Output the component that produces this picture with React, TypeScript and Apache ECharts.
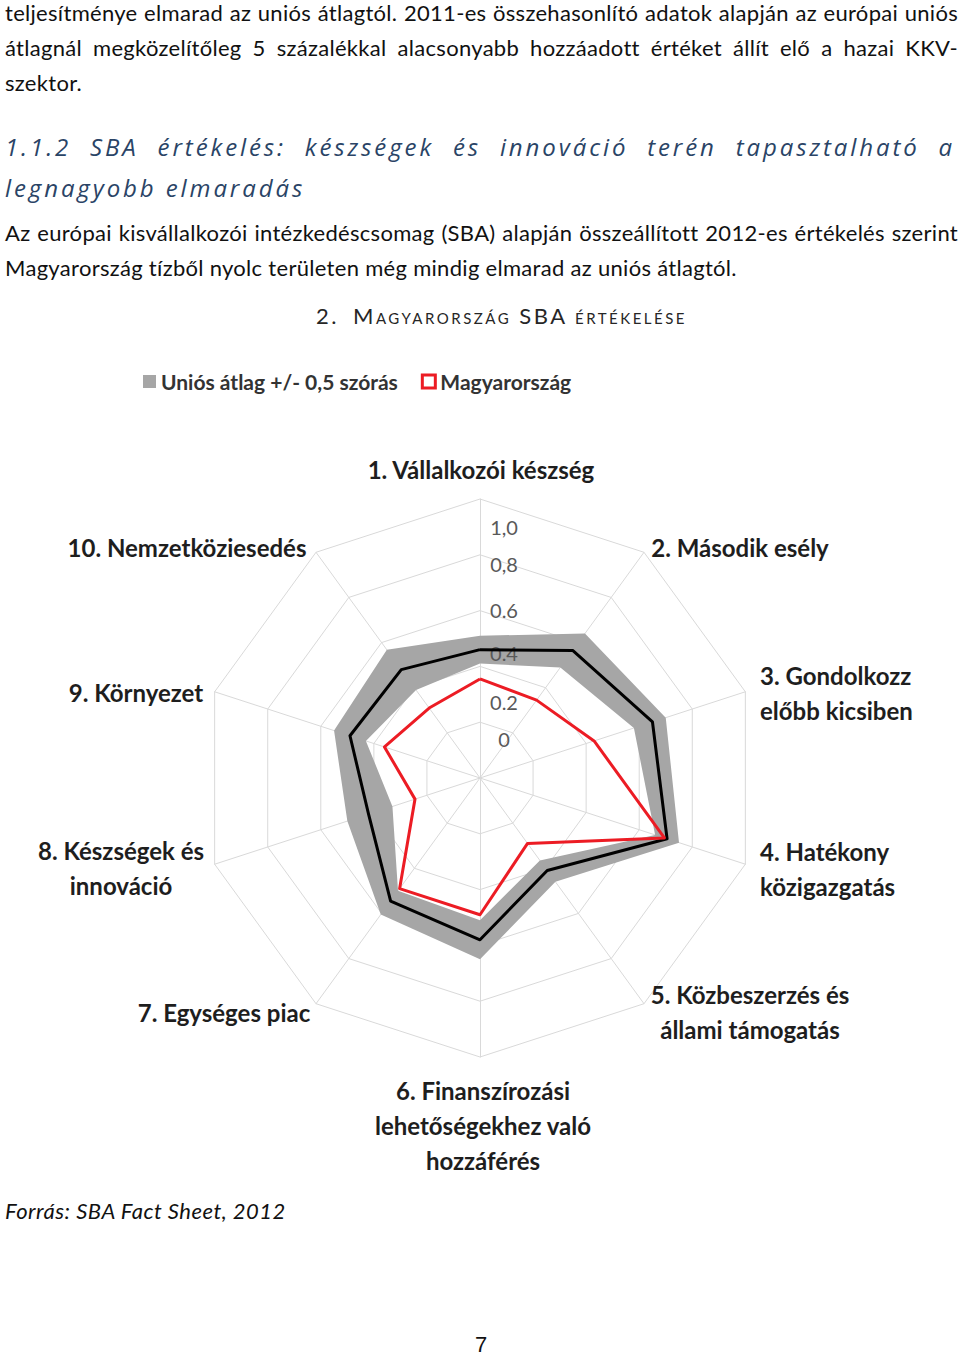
import React, { useEffect, useRef } from "react";
import * as echarts from "echarts";

// ---------- data ----------
const categories = [
  "1. Vállalkozói készség",
  "2. Második esély",
  "3. Gondolkozz\nelőbb kicsiben",
  "4. Hatékony\nközigazgatás",
  "5. Közbeszerzés és\nállami támogatás",
  "6. Finanszírozási\nlehetőségekhez való\nhozzáférés",
  "7. Egységes piac",
  "8. Készségek és\ninnováció",
  "9. Környezet",
  "10. Nemzetköziesedés",
];
const hungary = [0.355, 0.345, 0.43, 0.695, 0.29, 0.49, 0.49, 0.245, 0.36, 0.31];
const euAverage = [0.46, 0.565, 0.65, 0.705, 0.41, 0.58, 0.545, 0.42, 0.49, 0.48];
const euUpper = [0.51, 0.64, 0.7, 0.75, 0.46, 0.65, 0.605, 0.5, 0.55, 0.568];
const euLower = [0.41, 0.49, 0.58, 0.66, 0.365, 0.51, 0.5, 0.33, 0.43, 0.39];
const tickLabels = ["1,0", "0,8", "0.6", "0.4", "0.2", "0"];
const bandName = "Uniós átlag +/- 0,5 szórás";
const hungaryName = "Magyarország";
const averageName = "Uniós átlag";

// ---------- layout (chart-local pixels) ----------
const CX = 480;
const CY = 438;
const R = 279;
const labelLayout = [
  { x: 481, y: 129, align: "center" },
  { x: 740, y: 207, align: "center" },
  { x: 760, y: 352.5, align: "left" },
  { x: 760, y: 528.5, align: "left" },
  { x: 750, y: 671.5, align: "center" },
  { x: 483, y: 785, align: "center" },
  { x: 224, y: 672, align: "center" },
  { x: 121, y: 527.5, align: "center" },
  { x: 136, y: 352, align: "center" },
  { x: 187, y: 207, align: "center" },
];
const tickLayoutY = [187, 224, 270, 313, 362, 399];

// ECharts radar lays indicators out counter-clockwise; the reference runs clockwise.
const reorder = <T,>(arr: T[]): T[] => [arr[0], ...arr.slice(1).reverse()];

const BODY_FONT = "Lato, 'Open Sans', sans-serif";

function Line(props: {
  top: number;
  h: number;
  justify?: boolean;
  style?: React.CSSProperties;
  children: React.ReactNode;
}) {
  return (
    <div
      style={{
        position: "absolute",
        left: 5,
        width: 953,
        top: props.top - props.h / 2,
        height: props.h,
        lineHeight: props.h + "px",
        whiteSpace: "nowrap",
        textAlign: props.justify ? "justify" : "left",
        textAlignLast: props.justify ? "justify" : "left",
        fontFamily: BODY_FONT,
        fontSize: 22,
        letterSpacing: 0.3,
        color: "#111",
        ...props.style,
      }}
    >
      {props.children}
    </div>
  );
}

export default function App() {
  const ref = useRef<HTMLDivElement>(null);

  useEffect(() => {
    const chart = echarts.init(ref.current!, null, { renderer: "svg" });

    const graphics: any[] = [];
    categories.forEach((name, i) => {
      const l = labelLayout[i];
      graphics.push({
        type: "text",
        x: l.x,
        y: l.y,
        z: 10,
        style: {
          text: name,
          font: "bold 24px Lato, 'Open Sans', sans-serif",
          fill: "#1e1e1e",
          align: l.align,
          verticalAlign: "middle",
          lineHeight: 35,
        },
      });
    });
    tickLabels.forEach((t, i) => {
      graphics.push({
        type: "text",
        x: 504,
        y: tickLayoutY[i],
        z: 3,
        style: {
          text: t,
          font: "20px Lato, 'Open Sans', sans-serif",
          fill: "#595959",
          align: "center",
          verticalAlign: "middle",
        },
      });
    });

    const option: any = {
      animation: false,
      backgroundColor: "#ffffff",
      legend: {
        left: 143,
        top: 31,
        padding: 0,
        itemWidth: 13,
        itemHeight: 13,
        itemGap: 23,
        selectedMode: false,
        textStyle: {
          fontFamily: "Lato, 'Open Sans', sans-serif",
          fontWeight: "bold",
          fontSize: 21,
          color: "#333333",
        },
        data: [
          { name: bandName, icon: "rect", itemStyle: { color: "#a6a6a6", borderWidth: 0 } },
          {
            name: hungaryName,
            icon: "rect",
            itemStyle: { color: "#ffffff", borderColor: "#ec1c24", borderWidth: 3 },
          },
        ],
      },
      radar: {
        center: [CX, CY],
        radius: R,
        startAngle: 90,
        splitNumber: 5,
        shape: "polygon",
        z: 0,
        indicator: reorder(categories).map((name) => ({ name, min: 0, max: 1 })),
        axisName: { show: false },
        axisLabel: { show: false },
        axisTick: { show: false },
        splitArea: { show: false },
        splitLine: { lineStyle: { color: "#d9d9d9", width: 1 } },
        axisLine: { lineStyle: { color: "#d9d9d9", width: 1 } },
      },
      polar: { center: [CX, CY], radius: R },
      angleAxis: {
        type: "value",
        min: 0,
        max: categories.length,
        startAngle: 90,
        clockwise: true,
        show: false,
      },
      radiusAxis: { type: "value", min: 0, max: 1, show: false },
      graphic: graphics,
      series: [
        {
          type: "custom",
          name: bandName,
          coordinateSystem: "polar",
          z: 2,
          silent: true,
          data: [[0, 0]],
          renderItem: (params: any, api: any) => {
            if (params.dataIndex !== 0) return null;
            const outer = euUpper.map((v, i) => api.coord([v, i]));
            const inner = euLower.map((v, i) => api.coord([v, i])).reverse();
            const toPath = (pts: number[][]) =>
              "M" + pts.map((p) => p[0].toFixed(2) + "," + p[1].toFixed(2)).join("L") + "Z";
            return {
              type: "path",
              shape: { pathData: toPath(outer) + toPath(inner) },
              style: { fill: "#a6a6a6", stroke: null },
            };
          },
        },
        {
          type: "radar",
          z: 4,
          symbol: "none",
          silent: true,
          data: [
            {
              name: averageName,
              value: reorder(euAverage),
              lineStyle: { color: "#000000", width: 3 },
              itemStyle: { color: "#000000" },
            },
            {
              name: hungaryName,
              value: reorder(hungary),
              lineStyle: { color: "#ec1c24", width: 3 },
              itemStyle: { color: "#ec1c24" },
            },
          ],
        },
      ],
    };

    chart.setOption(option);
    return () => chart.dispose();
  }, []);

  const headingStyle: React.CSSProperties = {
    fontFamily: "'Open Sans', sans-serif",
    fontStyle: "italic",
    fontSize: 24,
    letterSpacing: 2.9,
    color: "#2a4466",
  };

  return (
    <div
      style={{
        position: "absolute",
        left: 0,
        top: 0,
        width: 960,
        height: 1357,
        background: "#ffffff",
        overflow: "hidden",
      }}
    >
      <Line top={12} h={35} justify>
        teljesítménye elmarad az uniós átlagtól. 2011-es összehasonlító adatok alapján az európai uniós
      </Line>
      <Line top={47} h={35} justify>
        átlagnál megközelítőleg 5 százalékkal alacsonyabb hozzáadott értéket állít elő a hazai KKV-
      </Line>
      <Line top={82} h={35}>
        szektor.
      </Line>

      <Line top={146} h={41} justify style={{ ...headingStyle, width: 950 }}>
        1.1.2 SBA értékelés: készségek és innováció terén tapasztalható a
      </Line>
      <Line top={187} h={41} style={headingStyle}>
        legnagyobb elmaradás
      </Line>

      <Line top={232} h={35} justify>
        Az európai kisvállalkozói intézkedéscsomag (SBA) alapján összeállított 2012-es értékelés szerint
      </Line>
      <Line top={267} h={35}>
        Magyarország tízből nyolc területen még mindig elmarad az uniós átlagtól.
      </Line>

      <div
        style={{
          position: "absolute",
          left: 316,
          top: 316 - 17,
          height: 34,
          lineHeight: "34px",
          whiteSpace: "nowrap",
          fontFamily: BODY_FONT,
          fontSize: 22,
          color: "#262626",
          letterSpacing: 2.5,
          fontVariant: "small-caps",
        }}
      >
        <span style={{ display: "inline-block", width: 37 }}>2.</span>
        <span>Magyarország SBA értékelése</span>
      </div>

      <div
        ref={ref}
        style={{ position: "absolute", left: 0, top: 340, width: 960, height: 840 }}
      />

      <Line top={1210} h={35} style={{ fontStyle: "italic", letterSpacing: 0.5 }}>
        Forrás: SBA Fact Sheet, 2012
      </Line>

      <div
        style={{
          position: "absolute",
          left: 0,
          width: 962,
          top: 1345 - 15,
          height: 30,
          lineHeight: "30px",
          textAlign: "center",
          fontFamily: "'Liberation Sans', Arial, sans-serif",
          fontSize: 22,
          color: "#111",
        }}
      >
        7
      </div>
    </div>
  );
}
